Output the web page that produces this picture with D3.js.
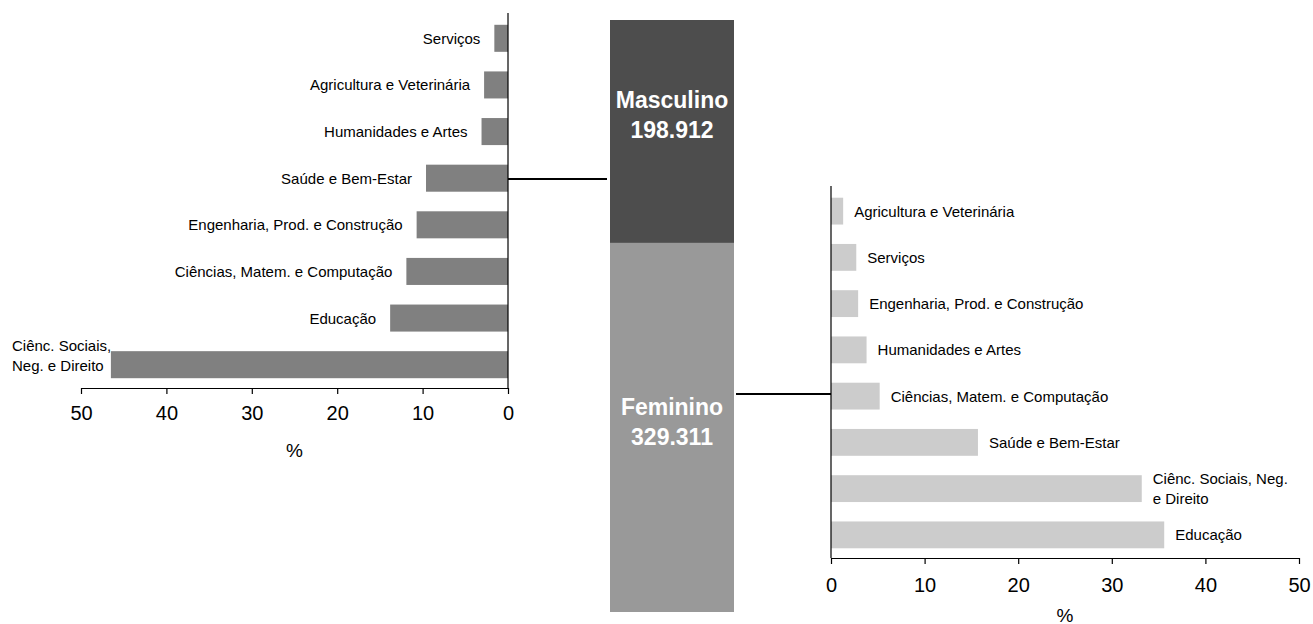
<!DOCTYPE html>
<html>
<head>
<meta charset="utf-8">
<script src="https://cdn.jsdelivr.net/npm/d3@7"></script>
<style>
  html, body { margin: 0; padding: 0; background: #fff; }
  svg { display: block; font-family: "Liberation Sans", Arial, sans-serif; }
</style>
</head>
<body>
<svg id="chart" width="1313" height="624"></svg>
<script>
// ---------- DATA ----------
const maleCategories = ["Serviços", "Agricultura e Veterinária", "Humanidades e Artes", "Saúde e Bem-Estar",
  "Engenharia, Prod. e Construção", "Ciências, Matem. e Computação", "Educação", "Ciênc. Sociais,|Neg. e Direito"];
const maleValues = [1.6, 2.8, 3.1, 9.6, 10.7, 11.9, 13.8, 46.5];

const femaleCategories = ["Agricultura e Veterinária", "Serviços", "Engenharia, Prod. e Construção", "Humanidades e Artes",
  "Ciências, Matem. e Computação", "Saúde e Bem-Estar", "Ciênc. Sociais, Neg.|e Direito", "Educação"];
const femaleValues = [1.3, 2.7, 2.9, 3.8, 5.2, 15.7, 33.2, 35.6];

const totalLabels = ["Masculino", "Feminino"];
const totalValues = [198912, 329311];
const totalValueLabels = ["198.912", "329.311"];

const axisTicks = [0, 10, 20, 30, 40, 50];
const axisTitle = "%";

// ---------- DRAW ----------
const svg = d3.select("#chart");
const font = '"Liberation Sans", Arial, sans-serif';

function styleAxis(g) {
  g.attr("font-family", font);
  g.selectAll(".domain").attr("stroke", "#000").attr("stroke-width", 1.2);
  g.selectAll(".tick line").attr("stroke", "#000").attr("stroke-width", 1.2);
  g.selectAll(".tick text").attr("font-size", 20).attr("font-family", font).attr("fill", "#000");
}

// Left (male) chart
const xL = d3.scaleLinear().domain([50, 0]).range([81, 508]);
const yL = d3.scaleBand().domain(maleCategories).range([15, 388]).paddingInner(0.42).paddingOuter(0.21);

svg.append("g").selectAll("rect").data(maleCategories).join("rect")
  .attr("x", (d, i) => xL(maleValues[i]))
  .attr("y", d => yL(d))
  .attr("width", (d, i) => xL(0) - xL(maleValues[i]))
  .attr("height", yL.bandwidth())
  .attr("fill", "#808080");

const gxL = svg.append("g").attr("transform", "translate(0,388)")
  .call(d3.axisBottom(xL).tickValues(axisTicks).tickSize(6).tickSizeOuter(0).tickPadding(12));
styleAxis(gxL);
svg.append("line").attr("x1", xL(0)).attr("x2", xL(0)).attr("y1", 13).attr("y2", 388)
  .attr("stroke", "#000").attr("stroke-width", 1.2);
svg.append("text").attr("x", xL(25)).attr("y", 450).attr("text-anchor", "middle")
  .attr("dominant-baseline", "central").attr("font-size", 19).text(axisTitle);

svg.append("g").selectAll("text").data(maleCategories).join("text")
  .each(function (d, i) {
    const t = d3.select(this);
    const parts = d.split("|");
    const cy = yL(d) + yL.bandwidth() / 2;
    t.attr("font-size", 15).attr("fill", "#000");
    if (parts.length === 1) {
      t.attr("x", xL(maleValues[i]) - 14).attr("y", cy).attr("text-anchor", "end")
        .attr("dominant-baseline", "central").text(d);
    } else {
      t.attr("text-anchor", "start");
      parts.forEach((p, k) => {
        t.append("tspan").attr("x", 12).attr("y", cy - 19 + k * 20)
          .attr("dominant-baseline", "central").text(p);
      });
    }
  });

// Right (female) chart
const xR = d3.scaleLinear().domain([0, 50]).range([831, 1299]);
const yR = d3.scaleBand().domain(femaleCategories).range([188, 558]).paddingInner(0.42).paddingOuter(0.21);

svg.append("g").selectAll("rect").data(femaleCategories).join("rect")
  .attr("x", xR(0))
  .attr("y", d => yR(d))
  .attr("width", (d, i) => xR(femaleValues[i]) - xR(0))
  .attr("height", yR.bandwidth())
  .attr("fill", "#cccccc");

const gxR = svg.append("g").attr("transform", "translate(0,558)")
  .call(d3.axisBottom(xR).tickValues(axisTicks).tickSize(6).tickSizeOuter(0).tickPadding(14));
styleAxis(gxR);
svg.append("line").attr("x1", xR(0)).attr("x2", xR(0)).attr("y1", 186).attr("y2", 558)
  .attr("stroke", "#000").attr("stroke-width", 1.2);
svg.append("text").attr("x", xR(25)).attr("y", 615).attr("text-anchor", "middle")
  .attr("dominant-baseline", "central").attr("font-size", 19).text(axisTitle);

svg.append("g").selectAll("text").data(femaleCategories).join("text")
  .each(function (d, i) {
    const t = d3.select(this);
    const parts = d.split("|");
    const cy = yR(d) + yR.bandwidth() / 2;
    const x0 = xR(femaleValues[i]) + 11;
    t.attr("font-size", 15).attr("fill", "#000").attr("text-anchor", "start");
    if (parts.length === 1) {
      t.attr("x", x0).attr("y", cy).attr("dominant-baseline", "central").text(d);
    } else {
      parts.forEach((p, k) => {
        t.append("tspan").attr("x", x0).attr("y", cy - 10 + k * 20)
          .attr("dominant-baseline", "central").text(p);
      });
    }
  });

// Middle stacked total bar
const total = d3.sum(totalValues);
const yM = d3.scaleLinear().domain([0, total]).range([20, 612]);
const boxX0 = 610, boxX1 = 734;
const boxColors = ["#4d4d4d", "#999999"];
let acc = 0;
const segs = totalValues.map((v, i) => { const s = { i, y0: acc, y1: acc + v }; acc += v; return s; });

svg.append("g").selectAll("rect").data(segs).join("rect")
  .attr("x", boxX0).attr("width", boxX1 - boxX0)
  .attr("y", d => yM(d.y0)).attr("height", d => yM(d.y1) - yM(d.y0))
  .attr("fill", d => boxColors[d.i]);

const textY = [[100, 130], [407, 437]];
segs.forEach(s => {
  [totalLabels[s.i], totalValueLabels[s.i]].forEach((txt, k) => {
    svg.append("text").attr("x", (boxX0 + boxX1) / 2).attr("y", textY[s.i][k])
      .attr("text-anchor", "middle").attr("dominant-baseline", "central")
      .attr("font-size", 23).attr("font-weight", "bold").attr("fill", "#fff").text(txt);
  });
});

// Connectors
svg.append("line").attr("x1", xL(0)).attr("x2", 607).attr("y1", 179).attr("y2", 179)
  .attr("stroke", "#000").attr("stroke-width", 2);
svg.append("line").attr("x1", 736).attr("x2", xR(0)).attr("y1", 394).attr("y2", 394)
  .attr("stroke", "#000").attr("stroke-width", 2);
</script>
</body>
</html>
